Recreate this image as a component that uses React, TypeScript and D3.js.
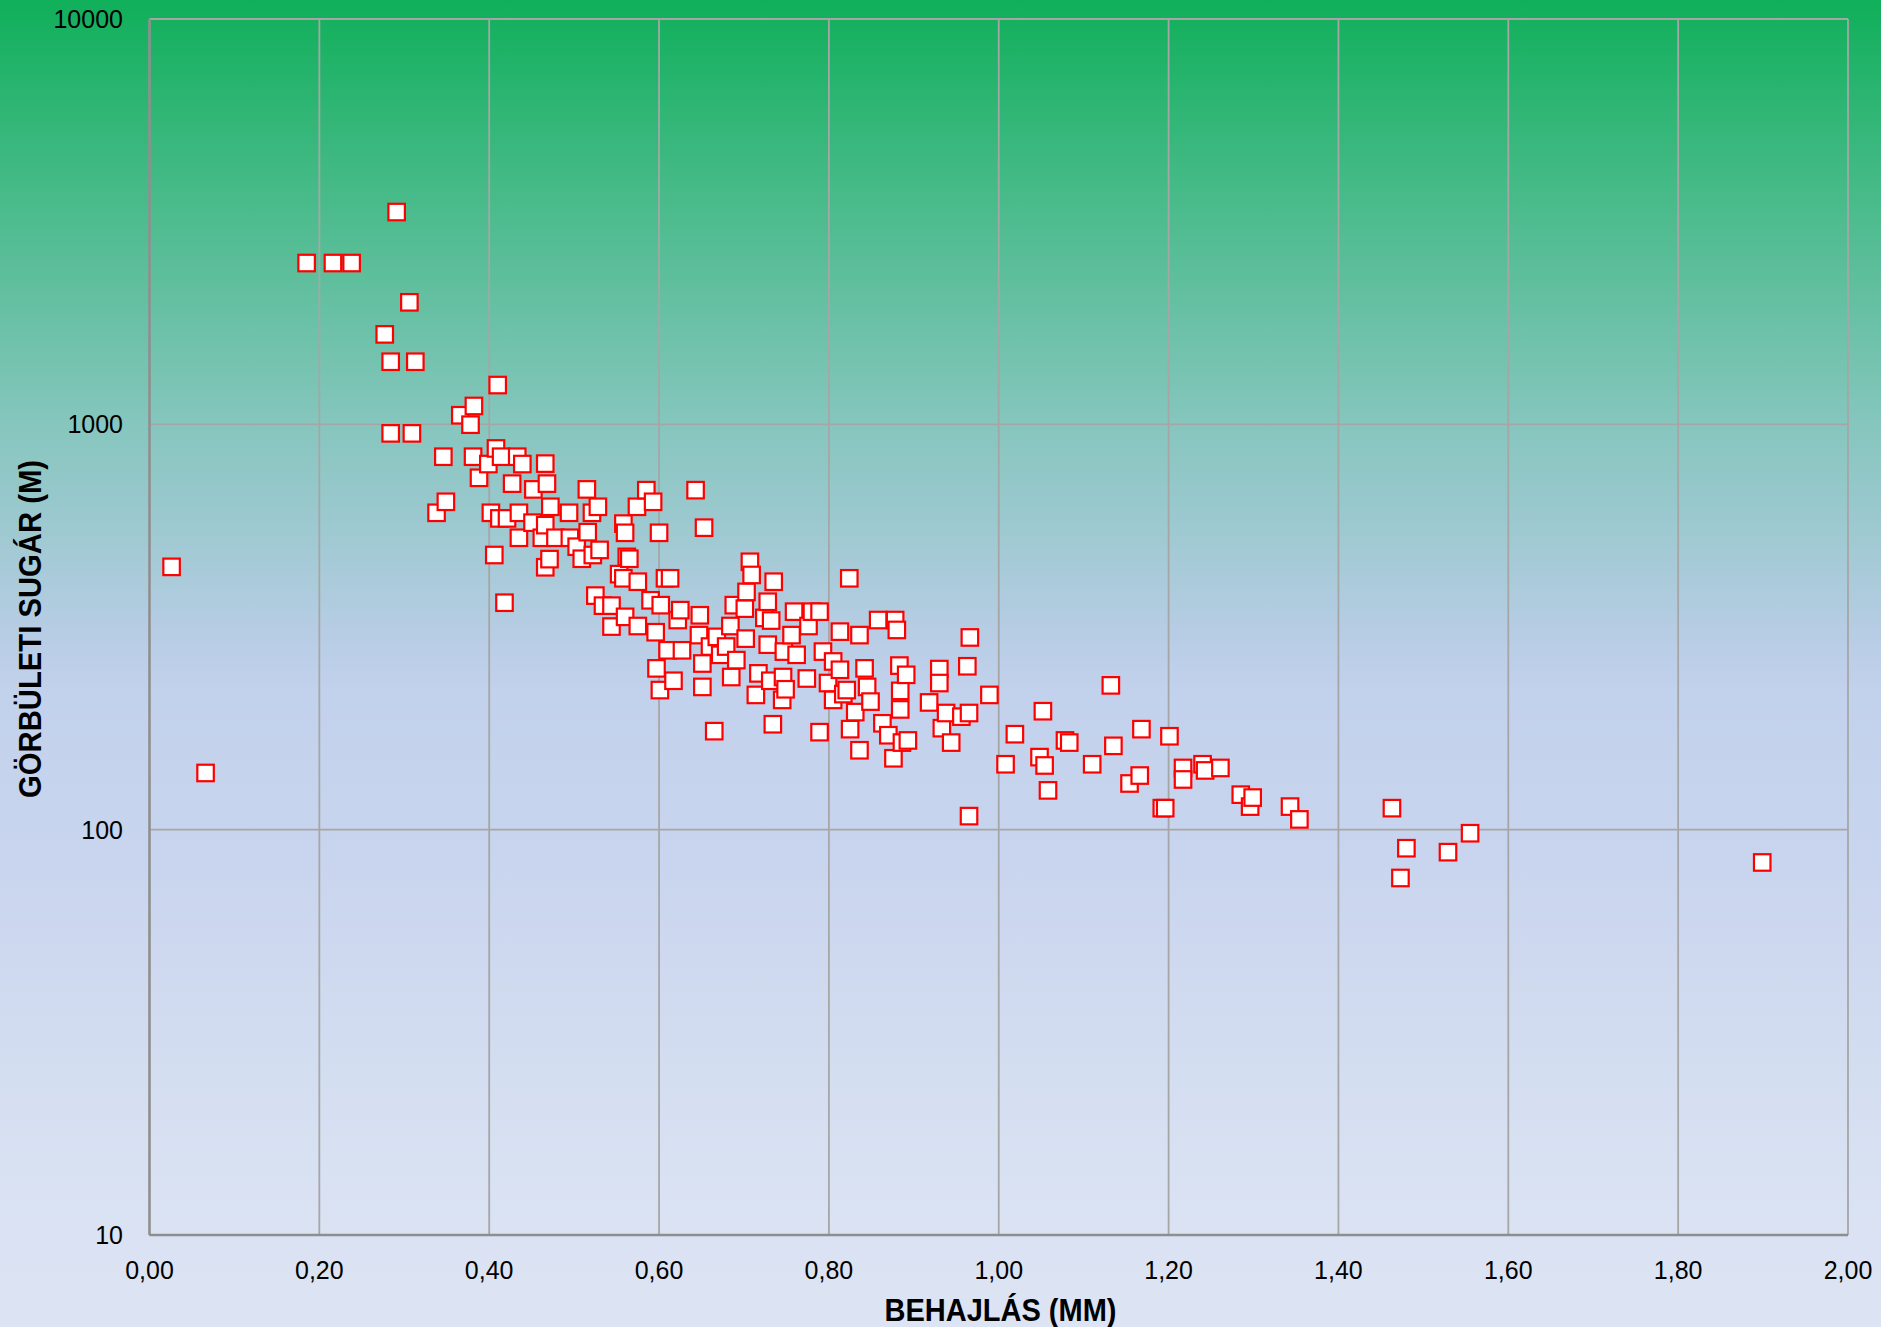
import React from "react";
import * as d3 from "d3";

// Deflection (mm) and radius of curvature (m) per measurement, same order in both arrays.
const deflectionMm = [
  0.026, 0.066, 0.185, 0.216, 0.238, 0.277, 0.284, 0.284, 0.291, 0.306,
  0.309, 0.313, 0.338, 0.346, 0.349, 0.366, 0.378, 0.381, 0.382, 0.388,
  0.399, 0.402, 0.406, 0.408, 0.41, 0.412, 0.414, 0.418, 0.421, 0.427,
  0.433, 0.435, 0.435, 0.439, 0.451, 0.452, 0.462, 0.466, 0.466, 0.466,
  0.468, 0.471, 0.472, 0.478, 0.494, 0.495, 0.503, 0.509, 0.515, 0.516,
  0.521, 0.522, 0.525, 0.528, 0.53, 0.534, 0.544, 0.544, 0.553, 0.558,
  0.558, 0.56, 0.56, 0.562, 0.565, 0.574, 0.575, 0.575, 0.585, 0.59,
  0.593, 0.596, 0.597, 0.6, 0.601, 0.602, 0.607, 0.61, 0.613, 0.617,
  0.622, 0.625, 0.627, 0.643, 0.647, 0.648, 0.651, 0.651, 0.653, 0.66,
  0.665, 0.668, 0.672, 0.679, 0.684, 0.685, 0.688, 0.691, 0.701, 0.702,
  0.703, 0.707, 0.709, 0.714, 0.717, 0.724, 0.728, 0.728, 0.731, 0.732,
  0.734, 0.735, 0.745, 0.746, 0.747, 0.749, 0.756, 0.759, 0.762, 0.774,
  0.776, 0.78, 0.789, 0.789, 0.793, 0.799, 0.805, 0.805, 0.813, 0.813,
  0.817, 0.821, 0.824, 0.825, 0.831, 0.836, 0.836, 0.842, 0.845, 0.849,
  0.858, 0.863, 0.87, 0.876, 0.878, 0.88, 0.883, 0.884, 0.884, 0.886,
  0.891, 0.893, 0.918, 0.93, 0.93, 0.933, 0.938, 0.944, 0.956, 0.963,
  0.965, 0.966, 0.965, 0.989, 1.008, 1.019, 1.048, 1.052, 1.054, 1.058,
  1.078, 1.083, 1.11, 1.132, 1.135, 1.154, 1.166, 1.168, 1.192, 1.196,
  1.201, 1.217, 1.217, 1.24, 1.243, 1.261, 1.285, 1.296, 1.299, 1.343,
  1.354, 1.463, 1.473, 1.48, 1.529, 1.555, 1.899,
];

const radiusM = [
  445, 138, 2500, 2500, 2500, 1667, 1427, 950, 3340, 2000,
  950, 1427, 605, 832, 644, 1053, 998, 832, 1110, 738,
  798, 605, 476, 872, 1250, 586, 832, 363, 586, 714,
  832, 605, 525, 798, 572, 691, 525, 800, 564, 444,
  714, 465, 626, 525, 605, 525, 499, 466, 691, 542,
  605, 476, 378, 626, 490, 357, 357, 317, 427, 569,
  417, 540, 335, 471, 466, 626, 409, 318, 688, 368,
  644, 307, 250, 540, 221, 358, 417, 277, 417, 233,
  329, 348, 277, 688, 302, 338, 257, 225, 556, 283,
  175, 299, 270, 283, 318, 238, 358, 262, 351, 296,
  386, 458, 425, 215, 243, 333, 365, 286, 233, 328,
  182, 409, 209, 238, 275, 222, 302, 345, 270, 236,
  318, 345, 345, 174, 275, 230, 260, 209, 308, 248,
  216, 221, 417, 177, 195, 302, 157, 250, 225, 207,
  329, 183, 171, 150, 329, 311, 254, 220, 198, 164,
  241, 166, 206, 249, 230, 178, 194, 164, 190, 253,
  194, 298, 108, 215, 145, 172, 151, 196, 144, 125,
  166, 164, 145, 227, 161, 130, 136, 177, 113, 113,
  170, 142, 133, 145, 140, 142, 122, 114, 120, 114,
  106, 113, 76, 90, 88, 98, 83,
];

const xTickValues = [0, 0.2, 0.4, 0.6, 0.8, 1.0, 1.2, 1.4, 1.6, 1.8, 2.0];
const yTickValues = [10, 100, 1000, 10000];

const xTitle = "BEHAJLÁS (MM)";
const yTitle = "GÖRBÜLETI SUGÁR (M)";

const WIDTH = 1881;
const HEIGHT = 1327;
const PLOT = { left: 149.5, right: 1848, top: 19, bottom: 1235 };
const FONT = "'Liberation Sans', Arial, Helvetica, sans-serif";

const bgStops: [number, string][] = [
  [0, "#10af5a"],
  [0.14, "#45ba87"],
  [0.32, "#86c6be"],
  [0.38, "#98c8cc"],
  [0.48, "#b8cde5"],
  [0.52, "#c2d1ec"],
  [0.65, "#c9d5ee"],
  [0.87, "#d8e1f2"],
  [1, "#dde4f4"],
];

export default function App() {
  const x = d3.scaleLinear().domain([0, 2]).range([PLOT.left, PLOT.right]);
  const y = d3.scaleLog().domain([10, 10000]).range([PLOT.bottom, PLOT.top]);
  const fmtX = (v: number) => d3.format(".2f")(v).replace(".", ",");

  const points = deflectionMm.map((d, i) => ({ d, r: radiusM[i] }));
  const size = 16.5;

  return (
    <>
      <style>{`body{margin:0;}`}</style>
      <svg width={WIDTH} height={HEIGHT} style={{ display: "block" }}>
        <defs>
          <linearGradient id="bg" x1="0" y1="0" x2="0" y2="1">
            {bgStops.map(([o, c]) => (
              <stop key={o} offset={o} stopColor={c} />
            ))}
          </linearGradient>
        </defs>
        <rect x={0} y={0} width={WIDTH} height={HEIGHT} fill="url(#bg)" />

        {/* grid */}
        {xTickValues.map((v) => (
          <line
            key={`gx${v}`}
            x1={x(v)}
            x2={x(v)}
            y1={PLOT.top}
            y2={PLOT.bottom}
            stroke="#a6a6a6"
            strokeWidth={1.8}
          />
        ))}
        {yTickValues.map((v) => (
          <line
            key={`gy${v}`}
            x1={PLOT.left}
            x2={PLOT.right}
            y1={y(v)}
            y2={y(v)}
            stroke="#a6a6a6"
            strokeWidth={1.8}
          />
        ))}
        {/* axis lines */}
        <line x1={PLOT.left} x2={PLOT.left} y1={PLOT.top} y2={PLOT.bottom} stroke="#8e8e8e" strokeWidth={2.4} />
        <line x1={PLOT.left} x2={PLOT.right} y1={PLOT.bottom} y2={PLOT.bottom} stroke="#8e8e8e" strokeWidth={2.4} />

        {/* markers */}
        {points.map((p, i) => (
          <rect
            key={i}
            x={x(p.d) - size / 2}
            y={y(p.r) - size / 2}
            width={size}
            height={size}
            fill="#ffffff"
            stroke="#ff0000"
            strokeWidth={2.2}
          />
        ))}

        {/* tick labels */}
        {yTickValues.map((v) => (
          <text
            key={`ty${v}`}
            x={123}
            y={y(v)}
            dy="0.36em"
            textAnchor="end"
            fontFamily={FONT}
            fontSize={25}
            fill="#000"
          >
            {v}
          </text>
        ))}
        {xTickValues.map((v) => (
          <text
            key={`tx${v}`}
            x={x(v)}
            y={1270}
            dy="0.36em"
            textAnchor="middle"
            fontFamily={FONT}
            fontSize={25}
            fill="#000"
          >
            {fmtX(v)}
          </text>
        ))}

        {/* axis titles */}
        <text
          x={1000.5}
          y={1309}
          dy="0.36em"
          textAnchor="middle"
          fontFamily={FONT}
          fontWeight="bold"
          fontSize={32}
          textLength={232}
          lengthAdjust="spacingAndGlyphs"
          fill="#000"
        >
          {xTitle}
        </text>
        <text
          transform={`translate(29,629) rotate(-90)`}
          dy="0.36em"
          textAnchor="middle"
          fontFamily={FONT}
          fontWeight="bold"
          fontSize={32}
          textLength={338}
          lengthAdjust="spacingAndGlyphs"
          fill="#000"
        >
          {yTitle}
        </text>
      </svg>
    </>
  );
}
